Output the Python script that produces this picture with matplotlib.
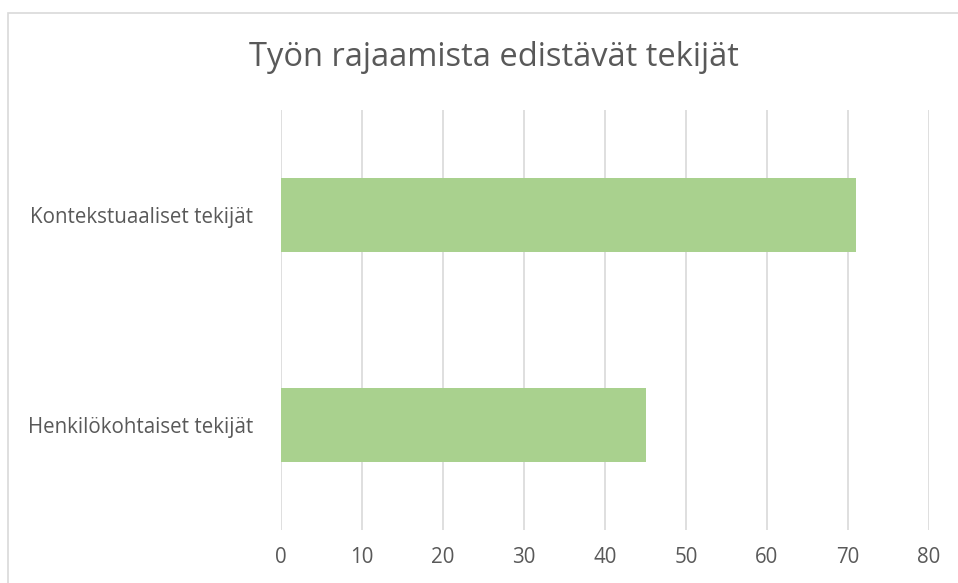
import matplotlib.pyplot as plt
from matplotlib.patches import Rectangle

# data
categories = ["Henkilökohtaiset tekijät", "Kontekstuaaliset tekijät"]
values = [45, 71]
x_ticks = [0, 10, 20, 30, 40, 50, 60, 70, 80]

W, H = 958, 583
plt.rcParams["font.family"] = ["Open Sans", "DejaVu Sans"]

fig = plt.figure(figsize=(W / 100, H / 100), dpi=100)
# chart frame, cut off at the right and bottom edges
fig.patches.append(Rectangle((8 / W, -0.1), 1, 1.1 - 13 / H, transform=fig.transFigure,
                             fill=False, edgecolor="#d9d9d9", linewidth=1.2))

ax = fig.add_axes([281 / W, 1 - 530 / H, (929 - 281) / W, (530 - 110) / H])
ax.barh(range(len(categories)), values, height=0.35, color="#a9d18e", zorder=3)
ax.set_ylim(-0.5, len(categories) - 0.5)
ax.set_xlim(0, 80)
ax.set_xticks(x_ticks)
ax.set_yticks(range(len(categories)))
ax.set_yticklabels(categories)
ax.grid(axis="x", color="#d9d9d9", linewidth=1.2, zorder=0)
for s in ax.spines.values():
    s.set_visible(False)
ax.tick_params(length=0, colors="#595959", labelsize=14.8)
ax.tick_params(axis="x", pad=12.5)
ax.tick_params(axis="y", pad=20)

fig.text(494 / W, 1 - 57 / H, "Työn rajaamista edistävät tekijät", ha="center", va="center",
         fontsize=23.5, color="#595959")

plt.savefig("out.png", dpi=100)
